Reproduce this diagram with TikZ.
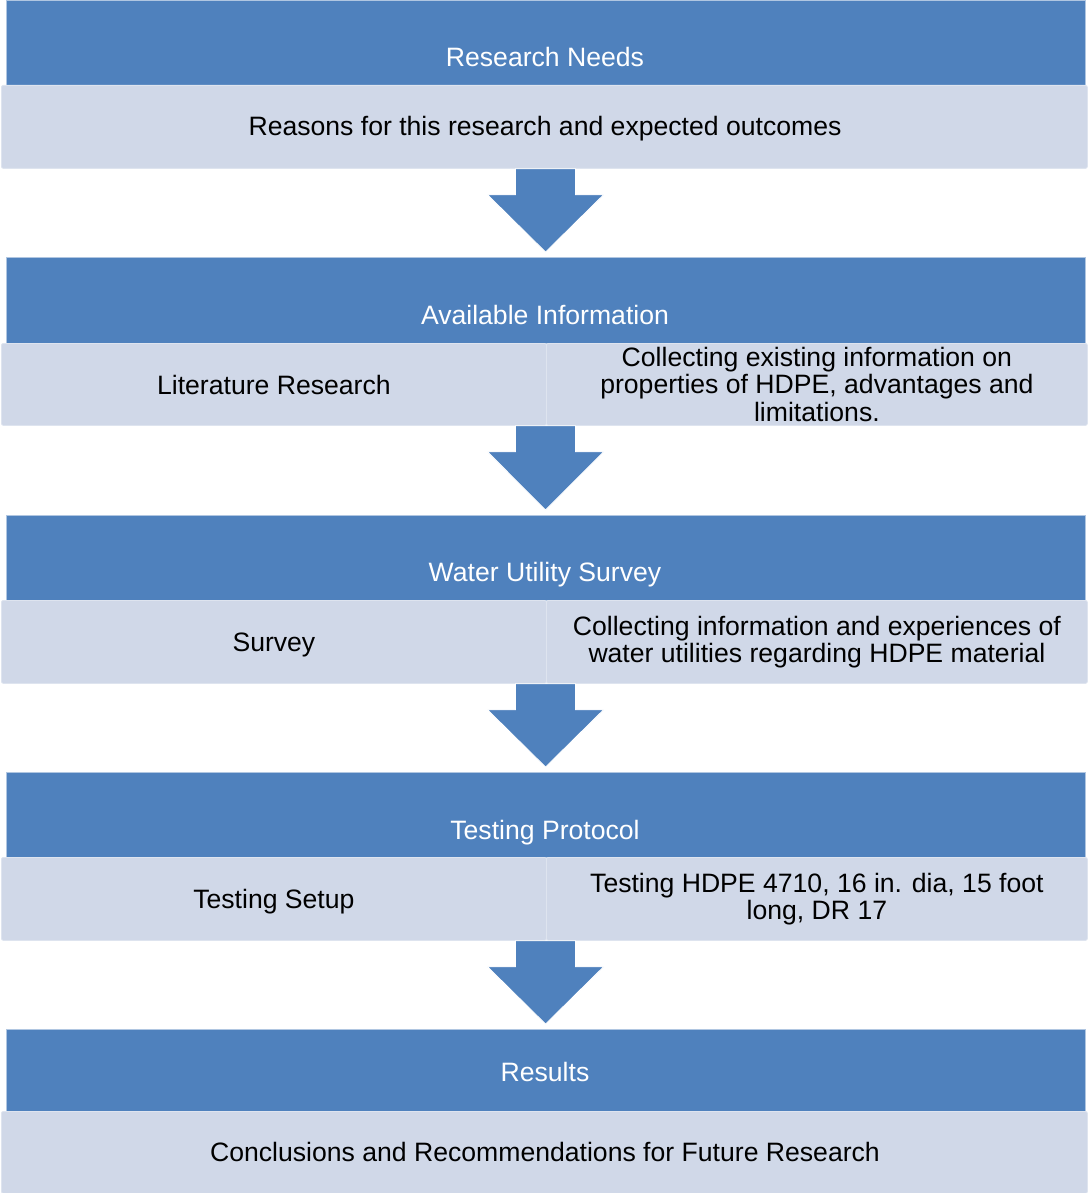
\documentclass[tikz,border=0pt]{standalone}
\usepackage{fontspec}
\setmainfont{Liberation Sans}
\usetikzlibrary{calc}
\definecolor{barblue}{HTML}{4F81BD}
\definecolor{cellgray}{HTML}{D0D8E8}
\newcommand{\fsz}{\fontsize{26.6pt}{27.3pt}\selectfont}
\newcommand{\blockarr}[3]{%
  \coordinate (#1s) at (#3.north |- #2.south);
  \coordinate (#1t) at ($(#3.north)+(0,-5)$);
  \filldraw[blockarrow] ($(#1s)+(-30,0)$) -- ($(#1s)+(-30,26)$) -- ($(#1s)+(-58,26)$) -- (#1t)
    -- ($(#1s)+(58,26)$) -- ($(#1s)+(30,26)$) -- ($(#1s)+(30,0)$) -- cycle;}
\begin{document}
\begin{tikzpicture}[x=1pt,y=-1pt,
  bluebar/.style={fill=barblue,draw=white!55!barblue,line width=0.6pt,inner sep=0pt,anchor=north west,minimum width=1079.5pt},
  cell/.style={fill=cellgray,draw=white!30!cellgray,line width=0.8pt,rounded corners=2pt,inner sep=0pt,anchor=north west},
  headtxt/.style={text=white,font=\fsz,inner sep=0pt,text depth=0pt},
  bodytxt/.style={text=black,font=\fsz,align=center,inner sep=0pt},
  oneline/.style={text depth=0pt}]
\tikzset{blockarrow/.style={fill=barblue,draw=white,line width=0.8pt}}
\useasboundingbox (0,0) rectangle (1087,1193);
% Row 1
\node[bluebar,minimum height=85pt] (b1) at (5.5,0) {};
\node[cell,minimum width=1086pt,minimum height=83pt] (c1) at (1,85) {};
\node[headtxt] (h1) at (545,57) {Research Needs};
\node[bodytxt,oneline] (t1) at (545,126) {Reasons for this research and expected outcomes};
% Row 2
\node[bluebar,minimum height=86pt] (b2) at (5.5,257) {};
\node[cell,minimum width=545pt,minimum height=82pt] (c2l) at (1,343) {};
\node[cell,minimum width=541pt,minimum height=82pt] (c2r) at (546,343) {};
\node[headtxt] (h2) at (545,315) {Available Information};
\node[bodytxt,oneline] (t2l) at (c2l.center) {Literature Research};
\node[bodytxt] (t2r) at (c2r.center) {Collecting existing information on\\properties of HDPE, advantages and\\limitations.};
% Row 3
\node[bluebar,minimum height=85pt] (b3) at (5.5,515) {};
\node[cell,minimum width=545pt,minimum height=83pt] (c3l) at (1,600) {};
\node[cell,minimum width=541pt,minimum height=83pt] (c3r) at (546,600) {};
\node[headtxt] (h3) at (545,572) {Water Utility Survey};
\node[bodytxt,oneline] (t3l) at (c3l.center) {Survey};
\node[bodytxt] (t3r) at (c3r.center) {Collecting information and experiences of\\water utilities regarding HDPE material};
% Row 4
\node[bluebar,minimum height=85pt] (b4) at (5.5,772) {};
\node[cell,minimum width=545pt,minimum height=83pt] (c4l) at (1,857) {};
\node[cell,minimum width=541pt,minimum height=83pt] (c4r) at (546,857) {};
\node[headtxt] (h4) at (545,830) {Testing Protocol};
\node[bodytxt,oneline] (t4l) at (c4l.center) {Testing Setup};
\node[bodytxt] (t4r) at (c4r.center) {Testing HDPE 4710, 16 in. dia, 15 foot\\long, DR 17};
% Row 5
\node[bluebar,minimum height=82pt] (b5) at (5.5,1029) {};
\node[cell,minimum width=1086pt,minimum height=82pt] (c5) at (1,1111) {};
\node[headtxt] (h5) at (545,1072) {Results};
\node[bodytxt,oneline] (t5) at (545,1152) {Conclusions and Recommendations for Future Research};
% Arrows
\blockarr{a1}{c1}{b2}
\blockarr{a2}{c2l}{b3}
\blockarr{a3}{c3l}{b4}
\blockarr{a4}{c4l}{b5}
\end{tikzpicture}
\end{document}
